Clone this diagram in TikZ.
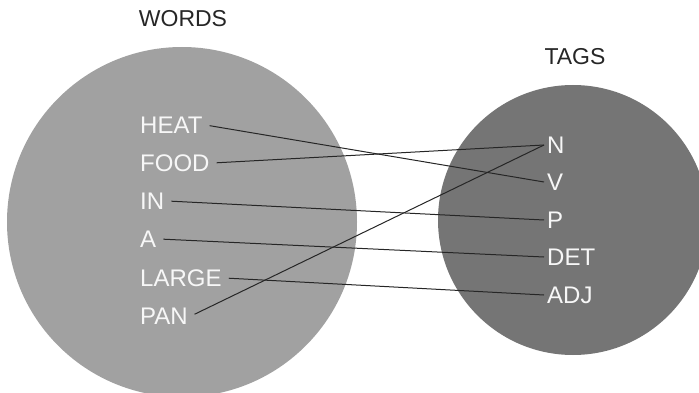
\documentclass[tikz,border=0pt]{standalone}
\usepackage{fontspec}
\setmainfont{Liberation Sans}
\usetikzlibrary{positioning}
\definecolor{wordgray}{gray}{0.63}
\definecolor{taggray}{gray}{0.46}
\definecolor{labelwhite}{gray}{0.97}

\begin{document}
\begin{tikzpicture}[x=1pt, y=-1pt,
  blob/.style={circle, draw=none, inner sep=0pt},
  label/.style={anchor=west, inner sep=3pt, text=labelwhite, font=\fontsize{24}{24}\selectfont},
  title/.style={inner sep=0pt, text=black!85, font=\fontsize{23}{23}\selectfont},
  link/.style={draw=black!85, line width=1pt, shorten <=4pt}
]
\clip (0,0) rectangle (699,393);
% the two sets
\node[blob, fill=wordgray, minimum size=350] (words) at (182,222) {};
\node[blob, fill=taggray, minimum size=270] (tags) at (573,220) {};
\node[title] (wordstitle) at (183,19) {WORDS};
\node[title] (tagstitle) at (575,57) {TAGS};
% words
\node[label] (heat) at (137,125) {HEAT};
\node[label] (food) at (137,163) {FOOD};
\node[label] (in) at (137,201) {IN};
\node[label] (a) at (137,239) {A};
\node[label] (large) at (137,278) {LARGE};
\node[label] (pan) at (137,316) {PAN};
% tags
\node[label] (n) at (544,145) {N};
\node[label] (v) at (544,182) {V};
\node[label] (p) at (544,220) {P};
\node[label] (det) at (544,257) {DET};
\node[label] (adj) at (544,295) {ADJ};
% mapping
\draw[link] (heat.east) -- (v.west);
\draw[link] (food.east) -- (n.west);
\draw[link] (in.east) -- (p.west);
\draw[link] (a.east) -- (det.west);
\draw[link] (large.east) -- (adj.west);
\draw[link] (pan.east) -- (n.west);
\end{tikzpicture}
\end{document}
